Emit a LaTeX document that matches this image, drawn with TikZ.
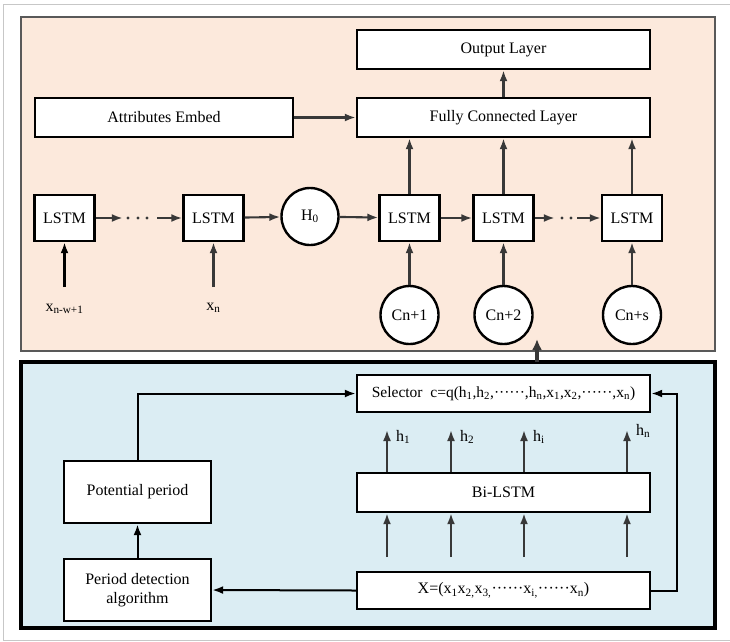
\documentclass[tikz,border=0pt]{standalone}
\usepackage{fontspec}
\setmainfont{Liberation Serif}
\newfontfamily\diagfont{Liberation Serif}
\usetikzlibrary{arrows.meta}

\definecolor{peach}{HTML}{FCE9DC}
\definecolor{paleblue}{HTML}{DBEDF3}
\definecolor{arrowgray}{HTML}{383838}

\tikzset{
  box/.style={draw=black, line width=2.4pt, fill=white, inner sep=0pt,
    align=center, font=\diagfont\fontsize{16}{19}\selectfont},
  cell/.style={circle, draw=black, line width=2.4pt, fill=white, inner sep=0pt,
    minimum size=58pt, font=\diagfont\fontsize{16}{19}\selectfont},
  lbl/.style={inner sep=0pt, font=\diagfont\fontsize{16}{19}\selectfont},
  flow/.style={->, draw=arrowgray, line width=2.1pt},
  link/.style={->, draw=black, line width=2pt},
}

\begin{document}
\begin{tikzpicture}[x=1pt,y=-1pt,>={Latex[length=11pt,width=8pt]}]
        \useasboundingbox (0,0) rectangle (730,641);

        % draw the frame and the two panels
        \draw[black!22, line width=1pt] (734,4) -- (3,4) -- (3,640) -- (734,640);
        \draw[black!65, line width=1.4pt, fill=peach] (21,17) rectangle (715,351);
        \draw[black, line width=3.2pt, fill=paleblue] (21,362) rectangle (715,628);

        % upper part: prediction network
        \node[box, minimum width=293pt, minimum height=39pt] (out) at (503.5,49.5) {Output Layer};
        \node[box, minimum width=293pt, minimum height=39pt] (fc) at (503.5,117.5) {Fully Connected Layer};
        \node[box, minimum width=258pt, minimum height=39pt] (attr) at (164,117.5) {Attributes Embed};

        \node[box, minimum width=60pt, minimum height=46pt] (lstm1) at (64.5,218) {LSTM};
        \node[box, minimum width=60pt, minimum height=46pt] (lstm2) at (213.5,218) {LSTM};
        \node[cell, minimum size=57pt] (h0) at (310,216.5) {H\textsubscript{0}};
        \node[box, minimum width=60pt, minimum height=46pt] (lstm3) at (409.5,218) {LSTM};
        \node[box, minimum width=60pt, minimum height=46pt] (lstm4) at (503.5,218) {LSTM};
        \node[box, minimum width=60pt, minimum height=46pt] (lstm5) at (632,218) {LSTM};

        \node[cell] (c1) at (409.5,315) {Cn+1};
        \node[cell] (c2) at (503.5,315) {Cn+2};
        \node[cell] (cs) at (632,315) {Cn+s};

        % gaps with the dots
        \node[minimum width=34pt, inner sep=0pt] (gapA) at (140,218) {};
        \node[minimum width=22pt, inner sep=0pt] (gapB) at (566,218) {};
        \foreach \d in {128,138,147,562,571}
                \fill[arrowgray] (\d,218) circle (1.6pt);

        \draw[flow] (attr) -- (fc);
        \draw[flow] (fc) -- (out);
        \draw[flow] (lstm1) -- (gapA);
        \draw[flow] (gapA) -- (lstm2);
        \draw[flow] (lstm2) -- (h0);
        \draw[flow] (h0) -- (lstm3);
        \draw[flow] (lstm3) -- (lstm4);
        \draw[flow] (lstm4) -- (gapB);
        \draw[flow] (gapB) -- (lstm5);
        \foreach \n in {lstm3,lstm4,lstm5}
                \draw[flow] (\n.north) -- (\n.north |- fc.south);
        \foreach \c/\n in {c1/lstm3,c2/lstm4,cs/lstm5}
                \draw[flow] (\c) -- (\n);

        % inputs of the history
        \node[lbl] (xa) at (64.5,309) {x\textsubscript{n-w+1}};
        \node[lbl] (xb) at (213.5,308) {x\textsubscript{n}};
        \coordinate (xatail) at (64.5,287);
        \coordinate (xbtail) at (213.5,287);
        \draw[->, black, line width=2.8pt] (xatail) -- (xatail |- lstm1.south);
        \draw[flow] (xbtail) -- (xbtail |- lstm2.south);

        % lower part: selector network
        \node[box, minimum width=293pt, minimum height=37pt, font=\diagfont\fontsize{15.5}{19}\selectfont] (sel) at (503.5,393.5)
                {Selector\ \ c=q(h\textsubscript{1},h\textsubscript{2},······,h\textsubscript{n},x\textsubscript{1},x\textsubscript{2},······,x\textsubscript{n})};
        \node[box, minimum width=293pt, minimum height=39pt] (bi) at (503.5,492.5) {Bi-LSTM};
        \node[box, minimum width=293pt, minimum height=37pt] (xs) at (503.5,590.5)
                {X=(x\textsubscript{1}x\textsubscript{2,}x\textsubscript{3,}······x\textsubscript{i,}······x\textsubscript{n})};
        \node[box, minimum width=147pt, minimum height=62pt] (pot) at (137.5,492) {Potential period};
        \node[box, minimum width=147pt, minimum height=62pt] (pda) at (137.5,590) {Period detection\\algorithm};

        \foreach \x/\lab/\ly [count=\i] in {387/1/437,451/2/437,524/i/437,627/n/431} {
                \coordinate (hin\i) at (\x,557);
                \coordinate (hout\i) at (\x,430);
                \draw[flow] (hin\i) -- (hin\i |- bi.south);
                \draw[flow] (hout\i |- bi.north) -- (hout\i);
                \node[lbl, anchor=west] (h\i) at (\x+9,\ly) {h\textsubscript{\lab}};
        }

        \coordinate (loop) at (677,590);
        \draw[link] (xs.east) -- (xs.east -| loop) |- (sel.east);
        \draw[link] (xs.west) -- (pda.east);
        \draw[link] (pda) -- (pot);
        \draw[link] (pot.north) |- (sel.west);

        % selector output goes up to the cells
        \coordinate (up) at (537,339);
        \draw[->, >={Latex[length=11pt,width=10pt]}, arrowgray, line width=4pt] (up |- 0,362) -- (up);
\end{tikzpicture}
\end{document}
